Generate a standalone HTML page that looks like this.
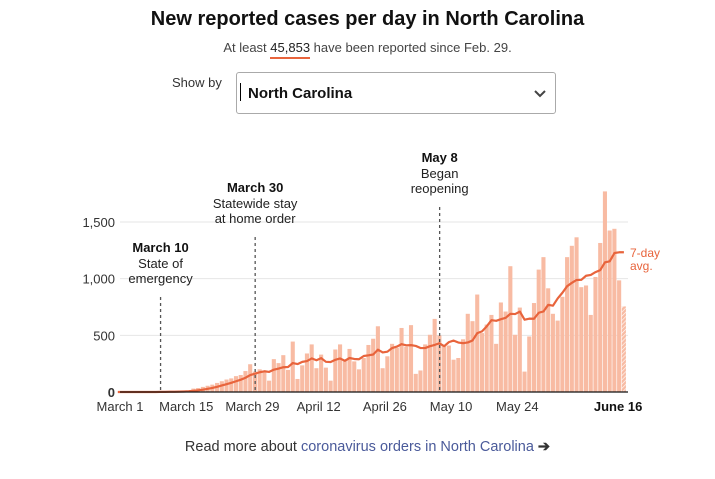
<!DOCTYPE html>
<html><head><meta charset="utf-8"><style>
body{margin:0;width:715px;height:479px;background:#fff;font-family:"Liberation Sans",sans-serif;color:#222;overflow:hidden;position:relative}
.t{position:absolute;white-space:nowrap}
</style></head><body>
<div class="t" style="left:0;width:735px;text-align:center;top:8px;font-size:20px;font-weight:bold;color:#111">New reported cases per day in North Carolina</div>
<div class="t" style="left:0;width:735px;text-align:center;top:40px;font-size:13px;color:#444">At least <span style="border-bottom:2px solid #e8643c;padding-bottom:2px;color:#222">45,853</span> have been reported since Feb. 29.</div>
<div class="t" style="left:172px;top:75px;font-size:13px;color:#333">Show by</div>
<div style="position:absolute;left:236px;top:72px;width:320px;height:42px;border:1px solid #aaa;border-radius:3px;box-sizing:border-box">
<span class="t" style="left:3px;top:10px;width:1px;height:18px;background:#000"></span>
<span class="t" style="left:11px;top:12px;font-size:15px;font-weight:bold;color:#111">North Carolina</span>
<svg style="position:absolute;left:296px;top:16px" width="14" height="10"><path d="M2 2 L7 7 L12 2" fill="none" stroke="#444" stroke-width="2"/></svg>
</div>
<svg id="chart" width="715" height="479" style="position:absolute;left:0;top:0;font-family:'Liberation Sans',sans-serif"></svg>
<div class="t" style="left:0;width:735px;text-align:center;top:439px;font-size:14.5px;color:#333">Read more about <span style="color:#4a5a9a">coronavirus orders in North Carolina</span> <b>➔</b></div>
<script>
const cases=[0,0,0,1,0,0,1,0,0,5,2,7,1,8,10,12,30,35,45,55,65,80,95,110,120,140,150,185,245,180,200,180,100,290,255,325,195,445,115,235,340,420,210,330,215,100,375,420,280,380,270,200,300,415,470,580,210,315,425,390,565,400,590,160,190,420,505,645,500,410,410,285,300,465,690,625,860,520,595,680,425,790,710,1110,505,745,180,490,785,1080,1190,915,690,630,840,1190,1290,1365,925,940,680,1015,1315,1770,1425,1440,985,755];
const yTicks=[0,500,1000,1500];
const yTickLabels=["0","500","1,000","1,500"];
const xTickDays=[0,14,28,42,56,70,84,107];
const xTickLabels=["March 1","March 15","March 29","April 12","April 26","May 10","May 24","June 16"];
const annDays=[9,29,68];
const annTitles=["March 10","March 30","May 8"];
const annLines=[["State of","emergency"],["Statewide stay","at home order"],["Began","reopening"]];
const annTops=[247,187,157];
const svg=document.getElementById('chart');
const NS='http://www.w3.org/2000/svg';
const x=d=>120+4.73*d;
const y=v=>392-v*0.11333;
function mk(tag,attrs,parent){const e=document.createElementNS(NS,tag);for(const k in attrs)e.setAttribute(k,attrs[k]);(parent||svg).appendChild(e);return e;}
const defs=mk('defs',{});
const pat=mk('pattern',{id:'hatch',width:3,height:3,patternUnits:'userSpaceOnUse',patternTransform:'rotate(45)'},defs);
mk('rect',{width:3,height:3,fill:'#f8bba3'},pat);
mk('line',{x1:0,y1:0,x2:0,y2:3,stroke:'#fff','stroke-width':1.2},pat);
yTicks.forEach((v,i)=>{
 if(v>0){const g=mk('line',{x1:120,x2:628,y1:y(v),y2:y(v),stroke:'#e6e6e6'});}
 const t=mk('text',{x:115,y:y(v)+5,'text-anchor':'end','font-size':13,fill:'#333','font-weight':v===0?'bold':'normal'});
 t.textContent=yTickLabels[i];
 
 
});
cases.forEach((v,d)=>{
 const r=mk('rect',{x:x(d)-4.3,y:y(v),width:4.1,height:392-y(v),fill:d===cases.length-1?'url(#hatch)':'#f8bba3'});
 
 
});
const avg=cases.map((v,i)=>{if(i<6)return null;let s=0;for(let k=i-6;k<=i;k++)s+=cases[k];return s/7;});
let pts=[];
for(let d=0;d<cases.length;d++){const i=Math.min(d,cases.length-2);let a=i<6?cases.slice(0,i+1).reduce((p,c)=>p+c,0)/7:avg[i];pts.push(x(d)-2.2+','+y(a));}
const ln=mk('polyline',{points:pts.join(' '),fill:'none',stroke:'#e8643c','stroke-width':2.2,'stroke-linejoin':'round'});


const ax=mk('line',{x1:120,x2:628,y1:392,y2:392,stroke:'#111','stroke-width':1.3});


xTickDays.forEach((d,i)=>{
 const last=i===xTickDays.length-1;
 const t=mk('text',{x:last?x(d)-8:x(d),y:411,'text-anchor':'middle','font-size':13,fill:last?'#111':'#333','font-weight':last?'bold':'normal'});
 t.textContent=xTickLabels[i];
 
 
});
annDays.forEach((d,i)=>{
 const cx=x(d)-2;
 const l=mk('line',{x1:cx,x2:cx,y1:annTops[i]+50,y2:392,stroke:'#555','stroke-width':1.3,'stroke-dasharray':'3,3'});
 
 
 const t=mk('text',{x:cx,y:annTops[i]+5,'text-anchor':'middle','font-size':13,'font-weight':'bold',fill:'#111'});
 t.textContent=annTitles[i];
 
 
 annLines[i].forEach((s,j)=>{
  const u=mk('text',{x:cx,y:annTops[i]+21+j*15,'text-anchor':'middle','font-size':13,fill:'#222'});
  u.textContent=s;
  
  
 });
});
['7-day','avg.'].forEach((s,j)=>{
 const t=mk('text',{x:630,y:257+j*13,'font-size':12,fill:'#e8643c'});
 t.textContent=s;
 
 
});
</script>
</body></html>
